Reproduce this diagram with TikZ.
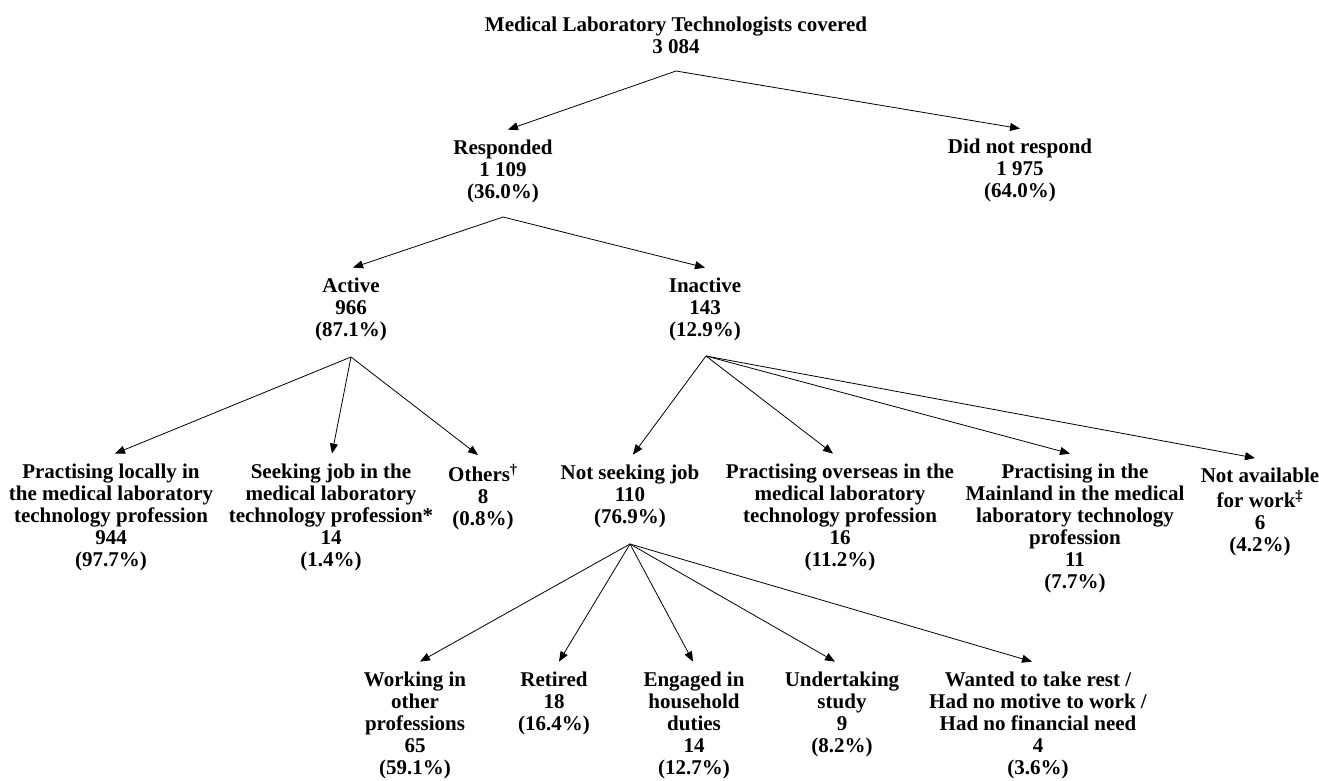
\documentclass[tikz,border=0pt]{standalone}
\usepackage{fontspec}
\setmainfont{Liberation Serif}
\usetikzlibrary{arrows.meta}
\begin{document}
\begin{tikzpicture}[x=1pt,y=-1pt,
  box/.style={align=center, inner xsep=0pt, inner ysep=9pt, anchor=north,
    font=\fontsize{21}{22}\selectfont\bfseries},
  arr/.style={-{Triangle[length=10pt,width=8pt]}, line width=0.8pt},
  ln/.style={line width=0.8pt}]
\useasboundingbox (0,0) rectangle (1319,780);
% level 0
\node[box] (title) at (676,6.6) {\strut Medical Laboratory Technologists covered\\3 084\strut};
% level 1
\node[box] (resp) at (503,129.6) {\strut Responded\\1 109\\(36.0\%)\strut};
\node[box] (dnr) at (1020,128.6) {\strut Did not respond\\1 975\\(64.0\%)\strut};
% level 2
\node[box] (act) at (351,267.6) {\strut Active\\966\\(87.1\%)\strut};
\node[box] (inact) at (705,267.6) {\strut Inactive\\143\\(12.9\%)\strut};
% level 3
\node[box] (loc) at (111,453.6) {\strut Practising locally in\\the medical laboratory\\technology profession\\944\\(97.7\%)\strut};
\node[box] (seek) at (331,453.6) {\strut Seeking job in the\\medical laboratory\\technology profession*\\14\\(1.4\%)\strut};
\node[box] (oth) at (483,455) {\strut Others\textsuperscript{†}\\8\\(0.8\%)\strut};
\node[box] (nsj) at (630,454.6) {\strut Not seeking job\\110\\(76.9\%)\strut};
\node[box] (ovs) at (840,453.6) {\strut Practising overseas in the\\medical laboratory\\technology profession\\16\\(11.2\%)\strut};
\node[box] (mld) at (1075,453.6) {\strut Practising in the\\Mainland in the medical\\laboratory technology\\profession\\11\\(7.7\%)\strut};
\node[box] (nav) at (1260,458) {\strut Not available\\for work\textsuperscript{‡}\\6\\(4.2\%)\strut};
% level 4
\node[box] (work) at (415,661.6) {\strut Working in\\other\\professions\\65\\(59.1\%)\strut};
\node[box] (ret) at (554,661.6) {\strut Retired\\18\\(16.4\%)\strut};
\node[box] (eng) at (694,661.6) {\strut Engaged in\\household\\duties\\14\\(12.7\%)\strut};
\node[box] (und) at (842,661.6) {\strut Undertaking\\study\\9\\(8.2\%)\strut};
\node[box] (want) at (1038,661.6) {\strut Wanted to take rest /\\Had no motive to work /\\Had no financial need\\4\\(3.6\%)\strut};
% branch points
\coordinate (tA) at ([yshift=-2pt]title.south);
\coordinate (rA) at ([yshift=-3pt]resp.south);
\coordinate (aA) at ([yshift=-5pt]act.south);
\coordinate (iA) at ([xshift=1pt,yshift=-4pt]inact.south);
\coordinate (nA) at ([yshift=-5pt]nsj.south);
% connectors
\draw[arr] (tA) -- ([xshift=5pt]resp.north);
\draw[arr] (tA) -- (dnr.north);
\draw[arr] (rA) -- ([xshift=2pt]act.north);
\draw[arr] (rA) -- (inact.north);
\draw[arr] (aA) -- ([xshift=4pt]loc.north);
\draw[arr] (aA) -- ([xshift=1pt]seek.north);
\draw[arr] (aA) -- ([xshift=-5pt]oth.north);
\draw[arr] (iA) -- ([xshift=3pt]nsj.north);
\draw[arr] (iA) -- ([xshift=-7pt]ovs.north);
\draw[arr] (iA) -- ([xshift=-5pt]mld.north);
\draw[arr] (iA) -- ([xshift=-5pt]nav.north);
\draw[arr] (nA) -- ([xshift=5pt]work.north);
\draw[arr] (nA) -- ([xshift=5pt]ret.north);
\draw[arr] (nA) -- ([xshift=-1pt]eng.north);
\draw[arr] (nA) -- ([xshift=-7pt]und.north);
\draw[arr] (nA) -- ([xshift=-6pt]want.north);
\end{tikzpicture}
\end{document}
